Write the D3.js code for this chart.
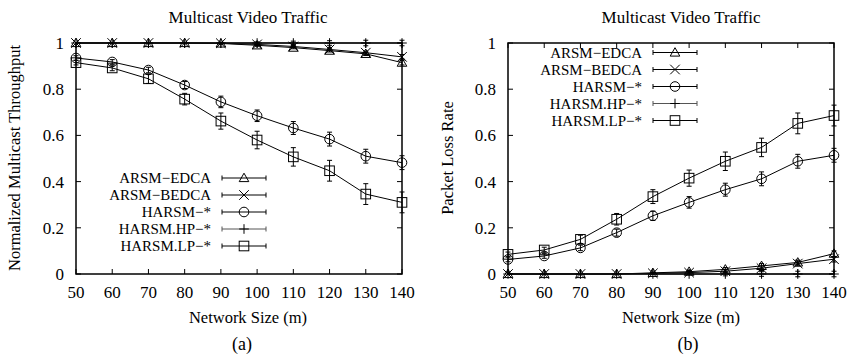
<!DOCTYPE html>
<html><head><meta charset="utf-8">
<script src="https://cdn.jsdelivr.net/npm/d3@7"></script>
<style>body{margin:0;background:#fff}svg{display:block}text{font-family:"Liberation Serif","Times New Roman",serif;fill:#000}</style>
</head><body>
<script>
const sizes = [50,60,70,80,90,100,110,120,130,140];
const xTicks = [50,60,70,80,90,100,110,120,130,140];
const yTicks = [0,0.2,0.4,0.6,0.8,1];
const yTickLabels = ["0","0.2","0.4","0.6","0.8","1"];
const seriesNames = ["ARSM\u2212EDCA","ARSM\u2212BEDCA","HARSM\u2212*","HARSM.HP\u2212*","HARSM.LP\u2212*"];
const seriesMarkers = ["triangle","cross","circle","plus","square"];

// (a) Normalized multicast throughput
const thrEDCA  = [1,1,1,1,0.998,0.99,0.98,0.967,0.953,0.915];
const thrBEDCA = [1,1,1,1,0.999,0.994,0.985,0.972,0.958,0.94];
const thrHARSM = [0.935,0.918,0.883,0.818,0.745,0.685,0.632,0.584,0.51,0.482];
const thrHP    = [1,1,1,1,1,1,1,1,1,1];
const thrLP    = [0.915,0.892,0.845,0.757,0.662,0.58,0.507,0.447,0.346,0.31];
const errThrEDCA  = [0,0,0,0,0.003,0.004,0.005,0.006,0.007,0.01];
const errThrBEDCA = [0,0,0,0,0.003,0.004,0.005,0.006,0.007,0.01];
const errThrHARSM = [0.01,0.01,0.012,0.015,0.025,0.025,0.028,0.03,0.03,0.03];
const errThrHP    = [0,0,0,0,0.003,0.005,0.008,0.01,0.012,0.012];
const errThrLP    = [0.01,0.012,0.02,0.025,0.035,0.038,0.04,0.045,0.045,0.045];

// (b) Packet loss rate
const lossEDCA  = [0,0,0,0,0.005,0.01,0.02,0.035,0.05,0.088];
const lossBEDCA = [0,0,0,0,0.003,0.006,0.012,0.025,0.045,0.064];
const lossHARSM = [0.063,0.078,0.113,0.179,0.252,0.31,0.365,0.412,0.488,0.514];
const lossHP    = [0,0,0,0,0,0,0,0,0,0];
const lossLP    = [0.085,0.104,0.15,0.237,0.335,0.415,0.488,0.548,0.652,0.686];
const errLossEDCA  = [0,0,0,0,0.003,0.005,0.008,0.01,0.01,0.012];
const errLossBEDCA = [0,0,0,0,0.003,0.005,0.008,0.01,0.01,0.012];
const errLossHARSM = [0.01,0.01,0.012,0.015,0.02,0.025,0.028,0.03,0.03,0.03];
const errLossHP    = [0,0,0,0,0,0,0.008,0.01,0.012,0.012];
const errLossLP    = [0.01,0.012,0.018,0.025,0.03,0.035,0.04,0.04,0.045,0.045];

const W = 847, H = 358;
const FS = 17, LFS = 15;
const svg = d3.select("body").append("svg").attr("width",W).attr("height",H);

function marker(g, type, cx, cy, color){
  const s = 4.8;
  const st = {stroke:color||"#000","stroke-width":1,fill:"none"};
  let el;
  if(type==="circle") el = g.append("circle").attr("cx",cx).attr("cy",cy).attr("r",s);
  else if(type==="square") el = g.append("rect").attr("x",cx-s).attr("y",cy-s).attr("width",2*s).attr("height",2*s);
  else if(type==="triangle") el = g.append("path").attr("d",`M${cx},${cy-s}L${cx+s},${cy+s*0.75}L${cx-s},${cy+s*0.75}Z`);
  else if(type==="cross") el = g.append("path").attr("d",`M${cx-s},${cy-s}L${cx+s},${cy+s}M${cx-s},${cy+s}L${cx+s},${cy-s}`);
  else if(type==="plus") el = g.append("path").attr("d",`M${cx-s},${cy}L${cx+s},${cy}M${cx},${cy-s}L${cx},${cy+s}`);
  for(const k in st) el.attr(k, st[k]);
}

function panel(opt){
  const x = d3.scaleLinear().domain([50,140]).range([opt.x0,opt.x1]);
  const y = d3.scaleLinear().domain([0,1]).range([274,43]);
  const g = svg.append("g");
  const tk = 5;
  xTicks.forEach(v=>{
    g.append("line").attr("x1",x(v)).attr("x2",x(v)).attr("y1",y(0)).attr("y2",y(0)-tk).attr("stroke","#000");
    g.append("line").attr("x1",x(v)).attr("x2",x(v)).attr("y1",y(1)).attr("y2",y(1)+tk).attr("stroke","#000");
    g.append("text").attr("x",x(v)).attr("y",298).attr("text-anchor","middle").attr("font-size",FS).text(v);
  });
  yTicks.forEach((v,i)=>{
    g.append("line").attr("x1",x(50)).attr("x2",x(50)+tk).attr("y1",y(v)).attr("y2",y(v)).attr("stroke","#000");
    g.append("line").attr("x1",x(140)).attr("x2",x(140)-tk).attr("y1",y(v)).attr("y2",y(v)).attr("stroke","#000");
    g.append("text").attr("x",x(50)-12).attr("y",y(v)+6).attr("text-anchor","end").attr("font-size",FS).text(yTickLabels[i]);
  });
  const line = d3.line().x((d,i)=>x(sizes[i])).y(d=>y(d));
  opt.data.forEach((vals,si)=>{
    const col = si===3 ? "#555" : "#000";
    g.append("path").attr("d",line(vals)).attr("fill","none").attr("stroke",col).attr("stroke-width",1);
    vals.forEach((v,i)=>{
      const e = opt.err[si][i];
      const cx = x(sizes[i]);
      if(e>0){
        const a = y(v+e), b = y(v-e);
        g.append("path").attr("d",`M${cx},${a}L${cx},${b}M${cx-2.5},${a}L${cx+2.5},${a}M${cx-2.5},${b}L${cx+2.5},${b}`).attr("stroke","#000").attr("fill","none");
      }
      marker(g, seriesMarkers[si], cx, y(v));
    });
  });
  g.append("rect").attr("x",x(50)).attr("y",y(1)).attr("width",x(140)-x(50)).attr("height",y(0)-y(1))
    .attr("fill","none").attr("stroke","#000").attr("stroke-width",1.5);
  seriesNames.forEach((n,i)=>{
    const ly = opt.ly + i*17;
    g.append("text").attr("x",opt.lx).attr("y",ly+5).attr("text-anchor","end").attr("font-size",LFS).text(n);
    const l0 = opt.lx+11, l1 = opt.lx+55, lm = (l0+l1)/2;
    const col = i===3 ? "#555" : "#000";
    g.append("path").attr("d",`M${l0},${ly}L${l1},${ly}M${l0},${ly-2.5}L${l0},${ly+2.5}M${l1},${ly-2.5}L${l1},${ly+2.5}`).attr("stroke",col).attr("fill","none");
    marker(g, seriesMarkers[i], lm, ly);
  });
  g.append("text").attr("x",opt.tx).attr("y",23).attr("text-anchor","middle").attr("font-size",FS).text("Multicast Video Traffic");
  g.append("text").attr("x",opt.tx).attr("y",323).attr("text-anchor","middle").attr("font-size",16.5).text("Network Size (m)");
  g.append("text").attr("x",opt.capx).attr("y",350).attr("text-anchor","middle").attr("font-size",18).text(opt.cap);
  g.append("text").attr("transform",`translate(${opt.ylx},158) rotate(-90)`).attr("text-anchor","middle").attr("font-size",16.5).text(opt.ylab);
}

panel({x0:76,x1:402,tx:248,capx:242,cap:"(a)",ylx:20,ylab:"Normalized Multicast Throughput",lx:211,ly:178,
  data:[thrEDCA,thrBEDCA,thrHARSM,thrHP,thrLP],err:[errThrEDCA,errThrBEDCA,errThrHARSM,errThrHP,errThrLP]});
panel({x0:508,x1:834,tx:681,capx:688,cap:"(b)",ylx:453,ylab:"Packet Loss Rate",lx:642,ly:52.5,
  data:[lossEDCA,lossBEDCA,lossHARSM,lossHP,lossLP],err:[errLossEDCA,errLossBEDCA,errLossHARSM,errLossHP,errLossLP]});
</script>
</body></html>
